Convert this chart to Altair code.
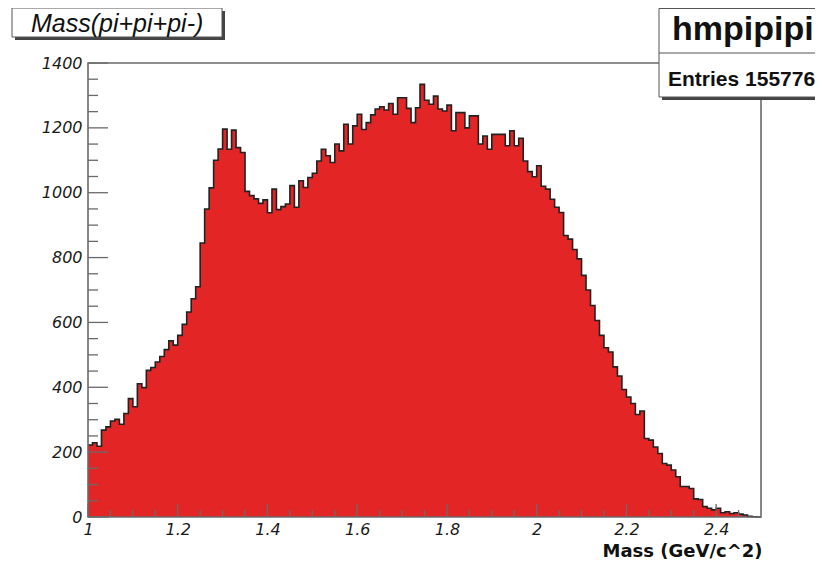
import altair as alt
import pandas as pd

# ---- histogram definition (bins of 0.01 from 1.00 to 2.50) ----
bin_start = 1.0
bin_width = 0.01

counts_1_00 = [222, 229, 218, 268, 278, 296, 301, 286, 319, 365,
               340, 411, 399, 452, 461, 478, 495, 516, 543, 530,
               560, 594, 632, 673, 710, 845, 950, 1015, 1100, 1135]
counts_1_30 = [1196, 1134, 1193, 1139, 1124, 1004, 991, 981, 967, 978,
               938, 1011, 948, 957, 965, 1022, 955, 1037, 1016, 1047,
               1060, 1098, 1134, 1114, 1093, 1150, 1129, 1211, 1150, 1206]
counts_1_60 = [1242, 1195, 1216, 1240, 1258, 1265, 1255, 1275, 1242, 1293,
               1293, 1260, 1216, 1262, 1334, 1285, 1273, 1298, 1258, 1252,
               1270, 1191, 1247, 1247, 1200, 1237, 1237, 1150, 1175, 1134]
counts_1_90 = [1180, 1180, 1180, 1145, 1191, 1145, 1168, 1098, 1065, 1049,
               1083, 1020, 1011, 980, 955, 939, 868, 857, 825, 796,
               745, 700, 652, 606, 560, 522, 509, 463, 435, 393]
counts_2_20 = [370, 350, 316, 327, 242, 237, 216, 196, 165, 160,
               145, 124, 94, 94, 88, 56, 54, 32, 27, 22,
               27, 13, 16, 11, 13, 9, 6, 2, 1, 0]

x_major = [1.0, 1.2, 1.4, 1.6, 1.8, 2.0, 2.2, 2.4]
x_minor = [1.05, 1.1, 1.15, 1.25, 1.3, 1.35, 1.45, 1.5, 1.55, 1.65, 1.7, 1.75,
           1.85, 1.9, 1.95, 2.05, 2.1, 2.15, 2.25, 2.3, 2.35, 2.45]
y_major = [0, 200, 400, 600, 800, 1000, 1200, 1400]
y_minor = [50, 100, 150, 250, 300, 350, 450, 500, 550, 650, 700, 750,
           850, 900, 950, 1050, 1100, 1150, 1250, 1300, 1350]

hist_name = "hmpipipi"
entries_text = "Entries 155776"
plot_title = "Mass(pi+pi+pi-)"
x_title = "Mass (GeV/c^2)"

counts = counts_1_00 + counts_1_30 + counts_1_60 + counts_1_90 + counts_2_20
edges = [round(bin_start + bin_width * i, 4) for i in range(len(counts) + 1)]
hist = pd.DataFrame({"mass": edges, "count": counts + [counts[-1]]})

W, H = 673, 454
RED = "#e32526"
FRAME = "#6a6a6a"
FONT = "Liberation Sans"
LFONT = "DejaVu Sans"

xs = alt.Scale(domain=[1.0, 2.5], nice=False, zero=False)
ys = alt.Scale(domain=[0, 1400], nice=False)

x_axis = alt.Axis(values=x_major, format="~g", labelFont=LFONT, labelFontStyle="italic",
                  labelFontSize=16, labelColor="#1a1a1a", ticks=False, tickSize=0,
                  domain=False, grid=False, labelPadding=4, labelFlush=False,
                  labelOverlap=False, title=x_title, titleFont=LFONT,
                  titleFontWeight="bold", titleFontSize=18, titleColor="#111",
                  titleAlign="right", titleAnchor="end", titleBaseline="alphabetic",
                  titleX=W + 1, titleY=39)
y_axis = alt.Axis(values=y_major, format="d", labelFont=LFONT, labelFontStyle="italic",
                  labelFontSize=16, labelColor="#1a1a1a", ticks=False, tickSize=0,
                  domain=False, grid=False, labelPadding=6, labelFlush=False,
                  labelOverlap=False, title=None)

base = alt.Chart(hist)
area = base.mark_area(interpolate="step-after", color=RED).encode(
    x=alt.X("mass:Q", scale=xs, axis=x_axis),
    y=alt.Y("count:Q", scale=ys, axis=y_axis),
)
outline = base.mark_line(interpolate="step-after", color="#222", strokeWidth=1.6).encode(
    x=alt.X("mass:Q", scale=xs),
    y=alt.Y("count:Q", scale=ys),
)


def xticks(vals, length):
    return alt.Chart(pd.DataFrame({"mass": vals})).mark_rule(color=FRAME, strokeWidth=1.3).encode(
        x=alt.X("mass:Q", scale=xs), y=alt.value(H), y2=alt.value(H - length))


def yticks(vals, length):
    return alt.Chart(pd.DataFrame({"count": vals})).mark_rule(color=FRAME, strokeWidth=1.3).encode(
        y=alt.Y("count:Q", scale=ys), x=alt.value(0), x2=alt.value(length))


one = pd.DataFrame({"k": [0]})


def box(x1, x2, y1, y2, **kw):
    return alt.Chart(one).mark_rect(**kw).encode(
        x=alt.value(x1), x2=alt.value(x2), y=alt.value(y1), y2=alt.value(y2))


def label(txt, x, y, **kw):
    return alt.Chart(one).mark_text(text=txt, font=FONT, align="left",
                                    baseline="alphabetic", color="#111", **kw).encode(
        x=alt.value(x), y=alt.value(y))


frame = box(0, W, 0, H, fillOpacity=0, stroke=FRAME, strokeWidth=1.6)

title_shadow = box(-73, 137, -52, -23, color="#444")
title_box = box(-76, 134, -55, -26, fill="white", stroke="#555", strokeWidth=1)
title_text = label(plot_title, -57, -31, fontSize=25, fontStyle="italic")

stats_shadow = box(574, 790, -52, 37, color="#444")
stats_box = box(571, 790, -54.5, 34, fill="white", stroke="#555", strokeWidth=1)
stats_sep = alt.Chart(one).mark_rule(color="#555", strokeWidth=1).encode(
    x=alt.value(571), x2=alt.value(790), y=alt.value(-10))
stats_name = label(hist_name, 584, -23, fontSize=34, fontWeight="bold")
stats_entries = label(entries_text, 580, 23, fontSize=21, fontWeight="bold")

chart = alt.layer(
    area, outline,
    xticks(x_major, 13), xticks(x_minor, 7),
    yticks(y_major, 20), yticks(y_minor, 10),
    frame,
    title_shadow, title_box, title_text,
    stats_shadow, stats_box, stats_sep, stats_name, stats_entries,
).properties(
    width=W, height=H,
    autosize=alt.AutoSizeParams(type="none"),
    padding={"left": 80, "top": 55, "right": 54, "bottom": 43},
    background="white",
).configure_view(strokeWidth=0)

chart.save("out.html", embed_options={"renderer": "svg", "actions": False})
